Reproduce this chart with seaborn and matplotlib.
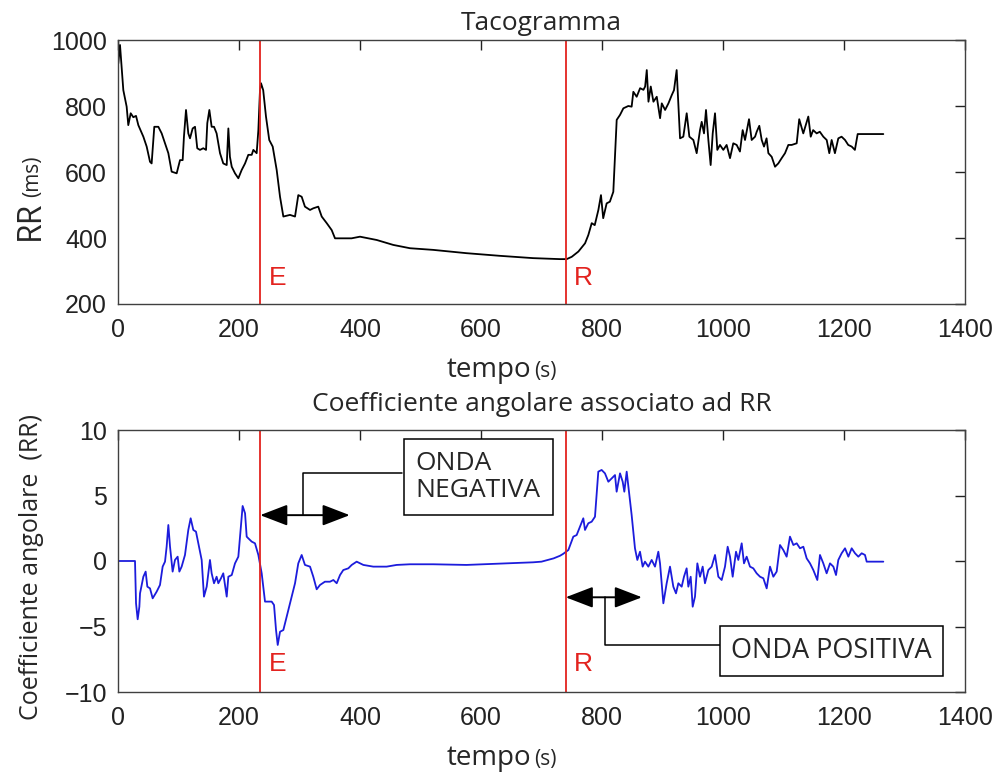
import numpy as np
import pandas as pd
import matplotlib
matplotlib.use("Agg")
import matplotlib.pyplot as plt
import seaborn as sns

# ---------------- data ----------------
rr_t = [0.5, 3.3, 8.8, 14.3, 17, 21, 25.3, 29.8, 33.6, 41.9, 47.4, 52.9, 55.6, 60, 66.7,
        72.2, 77.7, 83.2, 88.7, 97, 102.5, 106.9, 109, 112.4, 116.2, 119, 123.4, 127.3, 131,
        135.5, 141, 145.5, 147.6, 151, 154.8, 158.7, 163, 168.6, 174, 179.7, 182.4, 185, 188,
        193.4, 198.9, 204.4, 210, 215.4, 221, 223.7, 229.2, 232, 234.7, 236.4, 240, 244.6,
        250, 255.7, 262.3, 267.8, 273.3, 284.3, 292.6, 298, 303.6, 309, 317.4, 322.8, 331,
        336.7, 345, 353.2, 358.7, 372.4, 386, 400, 427.6, 455, 482.6, 521, 576, 631, 686,
        730.6, 741.6, 750, 761, 772, 777.4, 783, 788, 794, 798.3, 802, 807.7, 813, 818.7,
        821.5, 824.3, 829.8, 835.3, 843.5, 849, 851.8, 857.3, 863, 868.5, 871.3, 874, 876.8,
        880.6, 885, 890.5, 896, 898.8, 904.3, 909.8, 915.3, 919, 923.4, 929, 934.4, 940,
        944.4, 951, 956.5, 962, 964.8, 968.6, 971.9, 975.8, 979.6, 983, 986.8, 990.6, 995,
        1000.5, 1006, 1011.6, 1017, 1022.6, 1028, 1032.5, 1036.4, 1043, 1047.4, 1053, 1055.7,
        1060, 1064, 1067.8, 1072, 1075, 1080.5, 1086, 1091.4, 1097, 1102.5, 1108, 1113.5,
        1121.8, 1126, 1132.7, 1141, 1145, 1149, 1154.8, 1160, 1165.8, 1171.4, 1175.7, 1179.6,
        1185, 1190.6, 1196, 1201.7, 1207, 1212.7, 1218, 1222.6, 1265]
rr_ms = [929, 985, 848, 798, 742, 778, 766, 770, 742, 707, 677, 631, 626, 737, 737,
         717, 687, 657, 601, 596, 636, 636, 707, 788, 717, 702, 732, 737, 672,
         667, 672, 667, 748, 788, 737, 737, 717, 657, 626, 621, 732, 646, 616,
         596, 581, 606, 626, 652, 652, 667, 657, 727, 848, 869, 848, 768,
         697, 677, 606, 525, 465, 470, 465, 530, 525, 495, 485, 490, 495,
         465, 445, 424, 399, 399, 399, 404, 394, 379, 369, 364, 354, 346, 339,
         336, 336, 343, 359, 384, 409, 445, 439, 485, 530, 460, 505, 510, 540,
         646, 758, 773, 793, 800, 798, 843, 828, 854, 849, 859, 909, 813,
         859, 813, 828, 763, 808, 788, 808, 833, 848, 909, 702, 707, 778,
         707, 697, 657, 727, 752, 717, 788, 697, 621, 717, 778, 667, 682,
         667, 682, 642, 687, 682, 662, 727, 697, 760, 697, 707, 722,
         740, 697, 677, 702, 657, 646, 616, 626, 642, 657, 682, 682,
         687, 760, 717, 768, 707, 727, 717, 722, 707, 697, 657, 697,
         657, 702, 707, 697, 682, 677, 667, 715, 715]

coef_t = [0, 28.1, 29.8, 32.5, 35.3, 36.4, 41.9, 45.7, 48.5, 52.9, 57.3, 63.9, 69.4, 73.8,
          77.7, 80.4, 83.2, 86, 90.3, 94.2, 98.6, 101.4, 105.2, 110.7, 116.2, 120.1, 124.5,
          128.9, 132.8, 138.3, 142.1, 146.6, 152, 154.8, 158.7, 163, 165.8, 170.2, 174,
          179.7, 182.4, 188, 193.4, 198.9, 202.7, 206, 210, 212.7, 215.4, 221, 226.4, 232,
          237.5, 243, 248.5, 254, 257.9, 261.2, 264, 267.8, 273.3, 278.8, 287, 292.6, 298,
          303.6, 309, 317.4, 322.8, 328.4, 333.9, 342, 350.4, 356, 361.5, 367, 372.4, 380.7,
          386.3, 394.5, 405.5, 422, 444, 460.6, 482.6, 521, 576, 631, 686, 700, 720, 730.6,
          736, 744.4, 752.6, 758.1, 763.6, 769.1, 771.9, 777.4, 782.9, 788.4, 793.9, 799.4,
          804.9, 810.5, 816, 821.5, 824.2, 829.8, 834.2, 836.9, 840.8, 845.2, 849, 854.5,
          858.4, 862.8, 867.2, 871, 876.6, 882.1, 887.6, 893.1, 895.9, 901.4, 906.9, 912.4,
          917.9, 922.3, 926.2, 931.7, 935.5, 939.9, 942.7, 946.6, 949.9, 953.7, 957.6, 962,
          966.4, 970.2, 975.8, 981.3, 986.8, 992.3, 997.8, 1003.3, 1007.7, 1011.6, 1016,
          1021.5, 1025.3, 1030.9, 1034.7, 1039.1, 1044.6, 1050.1, 1055.6, 1061.2, 1066.7,
          1072.2, 1077.7, 1083.2, 1088.7, 1094.2, 1099.7, 1105.2, 1110.7, 1116.3, 1121.8,
          1127.3, 1132.8, 1138.3, 1143.8, 1149.3, 1155.9, 1160.3, 1165.8, 1171.3, 1176.9,
          1182.4, 1186.8, 1190.6, 1196.1, 1201.7, 1207.2, 1212.7, 1218.2, 1223.7, 1229.2,
          1234.7, 1237.5, 1265]
coef_v = [0, 0, -3.23, -4.45, -3.49, -2.47, -1.2, -0.81, -1.96, -2.09, -2.85, -2.34, -1.83, -0.43,
          -0.05, 1.09, 2.75, 1.09, -0.81, 0.08, 0.33, -0.81, -0.43, 0.46, 2.37, 3.26, 2.37,
          2.24, 1.35, 0.08, -2.72, -1.96, 0.08, -0.94, -1.7, -1.2, -1.7, -1.32, -0.94,
          -2.72, -1.2, -1.07, -0.18, 0.33, 2.37, 4.2, 3.64, 1.86, 1.73, 1.48, 1.35, 0.46,
          -0.94, -3.1, -3.1, -3.1, -3.36, -5.27, -6.41, -5.4, -5.27, -4.25, -2.72, -1.7, -0.18,
          0.46, -0.3, -0.43, -1.2, -2.16, -1.83, -1.58, -1.58, -1.45, -1.7, -1.07, -0.69, -0.56,
          -0.3, -0.05, -0.3, -0.43, -0.43, -0.3, -0.25, -0.25, -0.3, -0.2, -0.1, -0.05, 0.2, 0.4,
          0.55, 0.84, 1.86, 1.98, 2.62, 3.26, 2.37, 2.88, 3.0, 3.38, 6.82, 6.95,
          6.69, 6.05, 6.31, 6.56, 5.29, 6.69, 6.05, 5.29, 6.82, 5.04, 3.51, 0.97,
          0.08, 0.71, -0.43, -0.05, -0.43, 0.08, -0.43, 0.71, -0.18, -3.23, -1.7, -0.43,
          -1.96, -2.47, -1.7, -1.96, -1.2, -0.56, -1.96, -1.2, -3.49, -2.72, -0.18, -1.2,
          -0.43, -1.7, -0.69, -0.43, 0.46, -1.2, -1.45, -0.43, 1.09, 0.33, -1.2,
          0.71, 0.08, 1.35, -0.18, 0.33, -0.43, -0.56, -0.94, -1.2, -1.32,
          -2.09, -0.43, -1.2, -0.81, 1.22, 0.84, 0.33, 1.86, 1.22, 1.35,
          0.97, 1.09, 0.2, -0.18, -0.69, -1.45, 0.46, -0.18, -0.94, -0.18,
          -0.43, -1.07, 0.08, 0.59, 0.97, 0.33, 0.97, 0.59, 0.33, 0.59,
          0.46, -0.05, -0.05]

event_x = [235, 740]
event_labels = ["E", "R"]
x_ticks = [0, 200, 400, 600, 800, 1000, 1200, 1400]
rr_ticks = [200, 400, 600, 800, 1000]
coef_ticks = [-10, -5, 0, 5, 10]

# ---------------- style ----------------
sns.set_style("white")
plt.rcParams["font.family"] = ["Liberation Sans", "DejaVu Sans"]
TXT = ["Open Sans", "DejaVu Sans"]
RED = "#e3231f"
W, H = 998, 776

fig = plt.figure(figsize=(W / 100, H / 100), dpi=100)
ax1 = fig.add_axes([118 / W, 1 - 304 / H, 847 / W, 264 / H])
ax2 = fig.add_axes([118 / W, 1 - 692 / H, 847 / W, 262 / H])

df1 = pd.DataFrame({"t": rr_t, "rr": rr_ms})
df2 = pd.DataFrame({"t": coef_t, "c": coef_v})
sns.lineplot(data=df1, x="t", y="rr", ax=ax1, color="black", lw=1.3, estimator=None)
sns.lineplot(data=df2, x="t", y="c", ax=ax2, color="#1c1cdc", lw=1.3, estimator=None)

for ax, yt, ylim, lab_y in [(ax1, rr_ticks, (200, 1000), 279), (ax2, coef_ticks, (-10, 10), -7.9)]:
    ax.set_xlim(0, 1400)
    ax.set_ylim(*ylim)
    ax.set_xticks(x_ticks)
    ax.set_yticks(yt)
    ax.set_xlabel("")
    ax.set_ylabel("")
    ax.tick_params(direction="in", length=7, width=1, top=True, right=True,
                   labelsize=18, colors="#222222")
    ax.tick_params(axis="x", pad=10)
    ax.tick_params(axis="y", pad=8)
    for s in ax.spines.values():
        s.set_color("#404040")
        s.set_linewidth(1.0)
    for ex, el in zip(event_x, event_labels):
        ax.axvline(ex, color=RED, lw=1.3)
        ax.text(ex + 14, lab_y, el, color=RED, fontsize=19, va="center", ha="left",
                family=["Liberation Sans"])

ax1.set_title("Tacogramma", family=TXT, fontsize=19, pad=7)
ax2.set_title("Coefficiente angolare associato ad RR", family=TXT, fontsize=19, pad=14)

def fx(px):
    return px / W

def fy(py):
    return 1 - py / H

fig.text(fx(531), fy(370), "tempo", family=TXT, fontsize=20, ha="right", va="center")
fig.text(fx(534), fy(371), "(s)", family=TXT, fontsize=15, ha="left", va="center")
fig.text(fx(531), fy(758), "tempo", family=TXT, fontsize=20, ha="right", va="center")
fig.text(fx(534), fy(759), "(s)", family=TXT, fontsize=15, ha="left", va="center")
fig.text(fx(30), fy(240), "RR", family=TXT, fontsize=23, rotation=90, ha="center", va="bottom")
fig.text(fx(33), fy(197), "(ms)", family=TXT, fontsize=15, rotation=90, ha="center", va="bottom")
fig.text(fx(32), fy(567), "Coefficiente angolare  (RR)", family=TXT, fontsize=18,
         rotation=90, ha="center", va="center")

# annotations
arrow_kw = dict(arrowstyle="<|-|>,head_length=1.3,head_width=0.5", color="black", lw=1.4,
                shrinkA=0, shrinkB=0, mutation_scale=13)
ax2.annotate("", xy=(235, 3.5), xytext=(383, 3.5), arrowprops=arrow_kw)
ax2.plot([306, 306, 470], [3.5, 6.7, 6.7], color="black", lw=1.1)
ax2.text(492, 6.4, "ONDA\nNEGATIVA", family=TXT, fontsize=19, ha="left", va="center",
         linespacing=1.1,
         bbox=dict(boxstyle="square,pad=0.45", fc="white", ec="black", lw=1.1))

ax2.annotate("", xy=(740, -2.77), xytext=(866, -2.77), arrowprops=arrow_kw)
ax2.plot([805, 805, 1000], [-2.77, -6.41, -6.41], color="black", lw=1.1)
ax2.text(1014, -6.87, "ONDA POSITIVA", family=TXT, fontsize=19.5, ha="left", va="center",
         bbox=dict(boxstyle="square,pad=0.42", fc="white", ec="black", lw=1.1))

fig.savefig("out.png", dpi=100)
